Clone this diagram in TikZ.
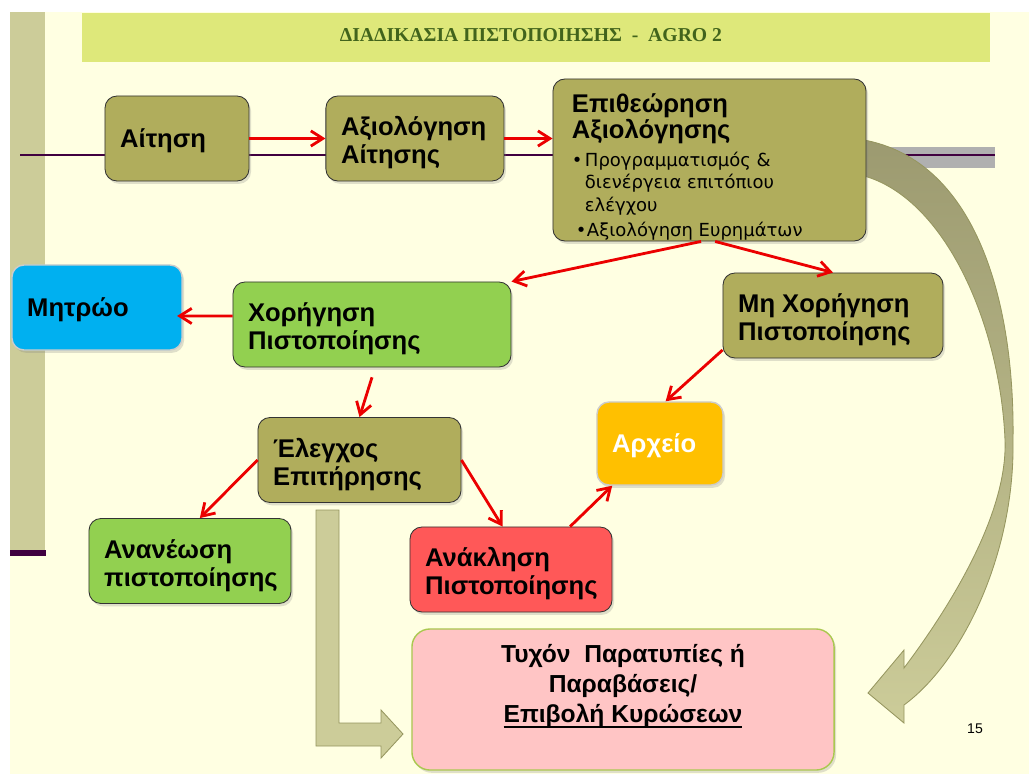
\documentclass[tikz,border=0pt]{standalone}
\usepackage{fontspec}
\setmainfont{Liberation Sans}
\newfontfamily\titleserif{Liberation Serif}
\newfontfamily\bulletsans{DejaVu Sans}
\usepackage{tikz}
\usetikzlibrary{
	arrows.meta,
	positioning,
	shadows,
	calc
}

\definecolor{slidecream}{RGB}{255,255,226}
\definecolor{sidebar}{RGB}{204,204,153}
\definecolor{plum}{RGB}{64,0,64}
\definecolor{titlebar}{RGB}{222,232,122}
\definecolor{titlegreen}{RGB}{66,100,28}
\definecolor{boxolive}{RGB}{176,173,92}
\definecolor{leafgreen}{RGB}{146,208,80}
\definecolor{skyblue}{RGB}{0,176,240}
\definecolor{amber}{RGB}{255,192,0}
\definecolor{coral}{RGB}{255,88,88}
\definecolor{blush}{RGB}{255,197,197}
\definecolor{blushedge}{RGB}{170,200,80}
\definecolor{khaki}{RGB}{204,204,153}
\definecolor{khakiedge}{RGB}{150,150,95}
\definecolor{dusk}{RGB}{156,154,112}
\definecolor{band}{RGB}{176,176,176}
\definecolor{arrowred}{RGB}{235,0,0}

% underline that crosses the descenders
\newcommand{\lowline}[1]{\leavevmode\setbox0=\hbox{#1}\rlap{\vrule width\wd0 height -2.9pt depth 4.3pt}\box0}

\begin{document}
\begin{tikzpicture}[
				x=0.025cm, y=-0.025cm,
				stage/.style={
					rectangle, draw=black!80, rounded corners=0.3cm, line width=0.6pt,
					minimum height=2.125cm, inner xsep=0.38cm, inner ysep=0pt,
					text height=15pt, text depth=19.2pt,
					align=flush left, font=\fontsize{18.2}{20}\selectfont\bfseries,
					drop shadow={opacity=0.25, shadow xshift=0.05cm, shadow yshift=-0.07cm}
				},
				oneline/.style={
					text depth=1.5pt
				},
				olivebox/.style={
					stage, fill=boxolive
				},
				greenbox/.style={
					stage, fill=leafgreen
				},
				softbox/.style={
					stage, draw=white!80!black, line width=1pt
				},
				arrow/.style={-{Straight Barb[length=0.3cm, width=0.38cm]}, line width=2pt, arrowred}
				]
				
				% slide background
				\path[use as bounding box, fill=white] (0,0) rectangle (1029,774);
				\fill[slidecream] (10,12) rectangle (1029,774);
				\fill[sidebar] (10,12) rectangle (45,550);
				\fill[plum] (10,550) rectangle (46,556);
				
				% title
				\fill[titlebar] (82,13) rectangle (990,62);
				\node[font=\titleserif\bfseries\fontsize{14}{16}\selectfont, text=titlegreen] (title) at (531,35) {ΔΙΑΔΙΚΑΣΙΑ ΠΙΣΤΟΠΟΙΗΣΗΣ\ \ -\ \ AGRO 2};
				
				% rule behind first row
				\fill[band] (860,147) rectangle (995,168);
				\draw[plum, line width=1.4pt] (20,155) -- (995,155);
				
				% curved block arrow
				\path[top color=dusk, bottom color=khaki, draw=khakiedge, line width=0.6pt]
					(850,138) .. controls (975,150) and (1015,300) .. (1013,440)
					.. controls (1015,550) and (965,660) .. (904,705)
					-- (904,723) -- (868,693) -- (904,650) -- (904,668)
					.. controls (940,620) and (1008,520) .. (1005,440)
					.. controls (1000,320) and (940,185) .. (850,173) -- cycle;
				
				% bent block arrow
				\path[fill=khaki, draw=khakiedge, line width=0.6pt]
					(316,510) -- (339,510) -- (339,723) -- (381,723) -- (381,710)
					-- (403,734) -- (381,758) -- (381,746) -- (316,746) -- cycle;
				
				% first row
				\node[olivebox, oneline, minimum width=3.6cm, text width=2.84cm] (apply) at (177,138.5) {Αίτηση};
				\node[olivebox, minimum width=4.45cm, text width=3.69cm, right=1.9cm of apply] (eval) {Αξιολόγηση\\Αίτησης};
				\node[olivebox, minimum width=7.825cm, minimum height=4.05cm, text width=6.875cm, inner xsep=0.475cm,
					font=\fontsize{18.2}{18.5}\selectfont\bfseries, text height=20pt, text depth=88pt] (inspect) at (709.5,160) {%
					Επιθεώρηση\\Αξιολόγησης\par
					\vspace{3.9pt}
					{\bulletsans\fontsize{12.8}{16}\selectfont\mdseries
					\makebox[0.325cm][l]{•}Προγραμματισμός \&\\
					\hspace*{0.325cm}διενέργεια επιτόπιου\\
					\hspace*{0.325cm}ελέγχου\par
					\vspace{1.8pt}
					\hspace*{0.1cm}\makebox[0.275cm][l]{•}Αξιολόγηση Ευρημάτων\par}};
				
				% second row
				\node[softbox, oneline, fill=skyblue, minimum width=4.25cm, text width=3.49cm] (reg) at (97,307.5) {Μητρώο};
				\node[greenbox, minimum width=6.95cm, text width=6.19cm] (grant) at (372,324.5) {Χορήγηση\\Πιστοποίησης};
				\node[olivebox, minimum width=5.5cm, text width=4.74cm] (nogrant) at (833,315.5) {Μη Χορήγηση\\Πιστοποίησης};
				
				% third row
				\node[softbox, oneline, fill=amber, text=white, minimum width=3.15cm, minimum height=2.075cm, text width=2.39cm] (archive) at (660,443.5) {Αρχείο};
				\node[olivebox, minimum width=5.075cm, text width=4.315cm] (monitor) at (359.5,460) {Έλεγχος\\Επιτήρησης};
				
				% fourth row
				\node[greenbox, minimum width=5.05cm, text width=4.29cm] (renew) at (190,561) {Ανανέωση\\πιστοποίησης};
				\node[stage, fill=coral, minimum width=5.05cm, text width=4.29cm] (revoke) at (511,569.5) {Ανάκληση\\Πιστοποίησης};
				
				% sanctions
				\node[stage, fill=blush, draw=blushedge, line width=1pt, rounded corners=0.45cm, minimum width=10.55cm, minimum height=3.525cm, text width=9.79cm,
					align=flush center, font=\fontsize{17.5}{21.3}\selectfont\bfseries, text height=13pt, text depth=66pt] (sanction) at (623,699.5) {Τυχόν\ \ Παρατυπίες ή\\Παραβάσεις/\\\lowline{Επιβολή Κυρώσεων}};
				
				% page number
				\node[font=\fontsize{10}{12}\selectfont] (pagenum) at (975,729) {15};
				
				% arrows
				\draw[arrow] (apply) -- (eval);
				\draw[arrow] (eval.east) -- (eval.east -| inspect.west);
				\draw[arrow] ([xshift=-6pt]inspect.south) -- (grant.north east);
				\draw[arrow] ([xshift=4pt]inspect.south) -- (nogrant.north);
				\draw[arrow] ([yshift=6pt]grant.west) -- ([xshift=-4pt,yshift=-6pt]reg.east);
				\draw[arrow] ([yshift=-7pt]grant.south) -- (monitor.north);
				\draw[arrow] (monitor.west) -- ([xshift=7pt]renew.north);
				\draw[arrow] (monitor.east) -- ([xshift=-6pt]revoke.north);
				\draw[arrow] ([yshift=6pt]nogrant.south west) -- ([xshift=4pt]archive.north);
				\draw[arrow] ([xshift=42pt]revoke.north) -- ([xshift=-34pt]archive.south);
			\end{tikzpicture}
\end{document}
